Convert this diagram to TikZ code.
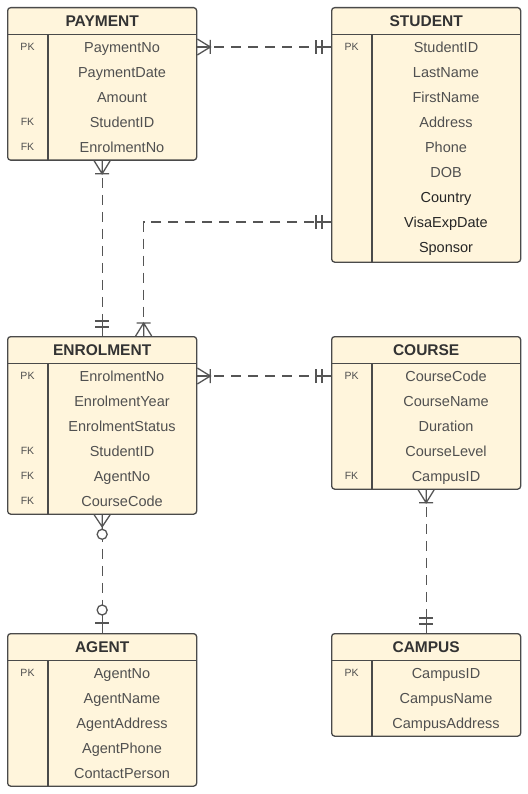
\documentclass[tikz,border=0pt]{standalone}
\usepackage{fontspec}
\setmainfont{Liberation Sans}
\usetikzlibrary{calc}

\definecolor{boxfill}{HTML}{FFF5DC}
\definecolor{boxline}{HTML}{4A4A4A}
\definecolor{linkgray}{HTML}{555555}
\definecolor{fieldgray}{HTML}{505050}

\begin{document}
\begin{tikzpicture}[x=1pt, y=-1pt,
            tablebox/.style={draw=boxline, line width=1.3pt, fill=boxfill, rounded corners=3pt,
                minimum width=189pt, anchor=north west, inner sep=0pt},
            titletext/.style={font=\fontsize{15.5}{18}\selectfont\bfseries, text=black!80,
                text height=11pt, text depth=0pt, inner sep=0pt},
            fieldtext/.style={font=\fontsize{14.5}{17}\selectfont, text=fieldgray,
                text height=10.5pt, text depth=0pt, inner sep=0pt},
            darkfield/.style={fieldtext, text=black!85},
            keytext/.style={font=\fontsize{10.5}{12}\selectfont, text=fieldgray,
                text height=7.5pt, text depth=0pt, inner sep=0pt},
            rule/.style={draw=boxline, line width=1.1pt},
            relline/.style={draw=linkgray, line width=1.3pt, dash pattern=on 10pt off 7pt},
            endline/.style={draw=linkgray, line width=1.3pt},
            twobar/.pic={\draw[endline] (0,0) -- (15,0) (9,-7) -- (9,7) (15,-7) -- (15,7);},
            crowbar/.pic={\draw[endline] (0,-8) -- (13,0) -- (0,8) (0,0) -- (13,0) (13,-7) -- (13,7);},
            crowring/.pic={\draw[endline] (0,-8) -- (12,0) -- (0,8) (0,0) -- (14,0);
                \draw[endline, fill=white] (19.5,0) circle (5);},
            barring/.pic={\draw[endline] (0,0) -- (18,0) (10,-7) -- (10,7);
                \draw[endline, fill=white] (23,0) circle (5);}]

    \useasboundingbox (0,0) rectangle (527,794);

    % PAYMENT
    \node[tablebox, minimum height=152.5pt] (payment) at (7,7) {};
    \node[titletext] at ($(payment.north)+(0,14)$) {PAYMENT};
    \draw[rule] ($(payment.north west)+(0,27.5)$) -- ($(payment.north east)+(0,27.5)$);
    \draw[rule] ($(payment.north west)+(41,27.5)$) -- ($(payment.south west)+(41,0)$);
    \foreach \t [count=\i] in {PaymentNo,PaymentDate,Amount,StudentID,EnrolmentNo}
        \node[fieldtext] (pay-\i) at ($(payment.north west)+(115,15+25*\i)$) {\t};
    \foreach \i/\k in {1/PK,4/FK,5/FK}
        \node[keytext] at ($(payment.north west)+(20.5,15+25*\i)$) {\k};

    % STUDENT
    \node[tablebox, minimum height=254.5pt] (student) at (331,7) {};
    \node[titletext] at ($(student.north)+(0,14)$) {STUDENT};
    \draw[rule] ($(student.north west)+(0,27.5)$) -- ($(student.north east)+(0,27.5)$);
    \draw[rule] ($(student.north west)+(41,27.5)$) -- ($(student.south west)+(41,0)$);
    \foreach \t [count=\i] in {StudentID,LastName,FirstName,Address,Phone,DOB}
        \node[fieldtext] (stu-\i) at ($(student.north west)+(115,15+25*\i)$) {\t};
    \foreach \t [count=\i from 7] in {Country,VisaExpDate,Sponsor}
        \node[darkfield] (stu-\i) at ($(student.north west)+(115,15+25*\i)$) {\t};
    \node[keytext] at ($(student.north west)+(20.5,40)$) {PK};

    % ENROLMENT
    \node[tablebox, minimum height=177.5pt] (enrolment) at (7,336) {};
    \node[titletext] at ($(enrolment.north)+(0,14)$) {ENROLMENT};
    \draw[rule] ($(enrolment.north west)+(0,27.5)$) -- ($(enrolment.north east)+(0,27.5)$);
    \draw[rule] ($(enrolment.north west)+(41,27.5)$) -- ($(enrolment.south west)+(41,0)$);
    \foreach \t [count=\i] in {EnrolmentNo,EnrolmentYear,EnrolmentStatus,StudentID,AgentNo,CourseCode}
        \node[fieldtext] (enr-\i) at ($(enrolment.north west)+(115,15+25*\i)$) {\t};
    \foreach \i/\k in {1/PK,4/FK,5/FK,6/FK}
        \node[keytext] at ($(enrolment.north west)+(20.5,15+25*\i)$) {\k};

    % COURSE
    \node[tablebox, minimum height=152.5pt] (course) at (331,336) {};
    \node[titletext] at ($(course.north)+(0,14)$) {COURSE};
    \draw[rule] ($(course.north west)+(0,27.5)$) -- ($(course.north east)+(0,27.5)$);
    \draw[rule] ($(course.north west)+(41,27.5)$) -- ($(course.south west)+(41,0)$);
    \foreach \t [count=\i] in {CourseCode,CourseName,Duration,CourseLevel,CampusID}
        \node[fieldtext] (crs-\i) at ($(course.north west)+(115,15+25*\i)$) {\t};
    \foreach \i/\k in {1/PK,5/FK}
        \node[keytext] at ($(course.north west)+(20.5,15+25*\i)$) {\k};

    % AGENT
    \node[tablebox, minimum height=152.5pt] (agent) at (7,633) {};
    \node[titletext] at ($(agent.north)+(0,14)$) {AGENT};
    \draw[rule] ($(agent.north west)+(0,27.5)$) -- ($(agent.north east)+(0,27.5)$);
    \draw[rule] ($(agent.north west)+(41,27.5)$) -- ($(agent.south west)+(41,0)$);
    \foreach \t [count=\i] in {AgentNo,AgentName,AgentAddress,AgentPhone,ContactPerson}
        \node[fieldtext] (agt-\i) at ($(agent.north west)+(115,15+25*\i)$) {\t};
    \node[keytext] at ($(agent.north west)+(20.5,40)$) {PK};

    % CAMPUS
    \node[tablebox, minimum height=102.5pt] (campus) at (331,633) {};
    \node[titletext] at ($(campus.north)+(0,14)$) {CAMPUS};
    \draw[rule] ($(campus.north west)+(0,27.5)$) -- ($(campus.north east)+(0,27.5)$);
    \draw[rule] ($(campus.north west)+(41,27.5)$) -- ($(campus.south west)+(41,0)$);
    \foreach \t [count=\i] in {CampusID,CampusName,CampusAddress}
        \node[fieldtext] (cmp-\i) at ($(campus.north west)+(115,15+25*\i)$) {\t};
    \node[keytext] at ($(campus.north west)+(20.5,40)$) {PK};

    % relationships
    \draw[relline] (payment.east |- pay-1) -- (student.west |- stu-1);
    \pic at (payment.east |- pay-1) {crowbar};
    \pic[rotate=180] at (student.west |- stu-1) {twobar};

    \draw[relline] (payment.south) -- (enrolment.north);
    \pic[rotate=-90] at (payment.south) {crowbar};
    \pic[rotate=90] at (enrolment.north) {twobar};

    \coordinate (enr-top) at ($(enrolment.north)+(41.5,0)$);
    \draw[relline] (student.west |- stu-8) -| (enr-top);
    \pic[rotate=180] at (student.west |- stu-8) {twobar};
    \pic[rotate=90] at (enr-top) {crowbar};

    \draw[relline] (enrolment.east |- enr-1) -- (course.west |- crs-1);
    \pic at (enrolment.east |- enr-1) {crowbar};
    \pic[rotate=180] at (course.west |- crs-1) {twobar};

    \draw[relline] (enrolment.south) -- (agent.north);
    \pic[rotate=-90] at (enrolment.south) {crowring};
    \pic[rotate=90] at (agent.north) {barring};

    \draw[relline] (course.south) -- (campus.north);
    \pic[rotate=-90] at (course.south) {crowbar};
    \pic[rotate=90] at (campus.north) {twobar};
\end{tikzpicture}
\end{document}
